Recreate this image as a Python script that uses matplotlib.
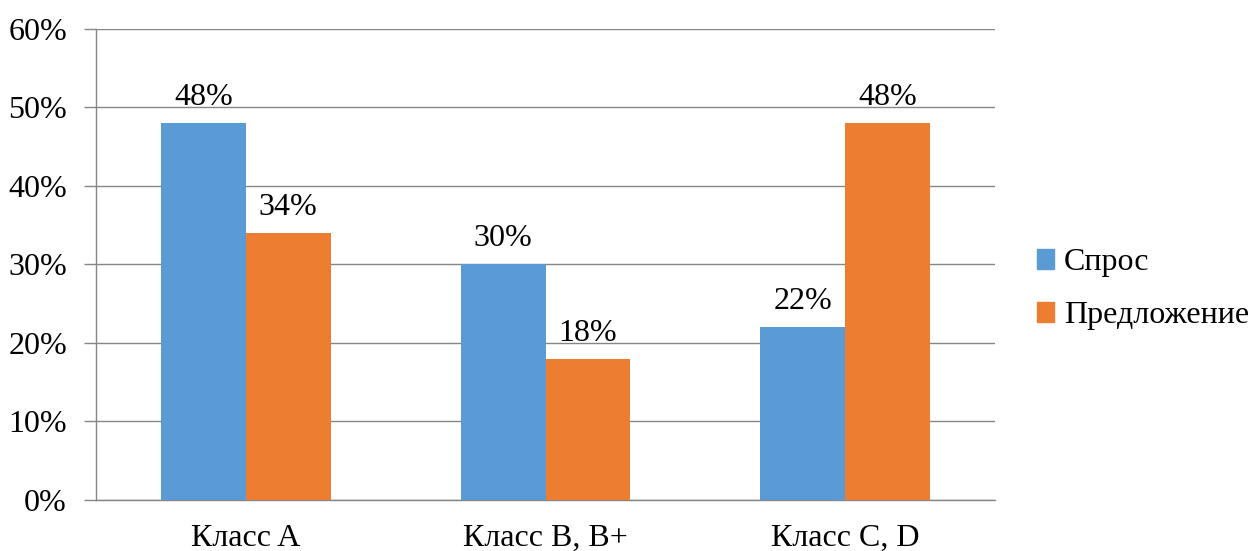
import numpy as np
import matplotlib.pyplot as plt
from matplotlib.ticker import FuncFormatter
from matplotlib.patches import Patch

plt.rcParams['font.family'] = ['Liberation Serif', 'DejaVu Serif']

categories = ['Класс A', 'Класс B, B+', 'Класс C, D']
series_names = ['Спрос', 'Предложение']
demand = [48, 30, 22]
supply = [34, 18, 48]
colors = ['#5B9BD5', '#ED7D31']
grid_color = '#868686'
fs = 23

fig = plt.figure(figsize=(12.49, 5.51), dpi=100)
ax = fig.add_axes([0.0769, 0.0926, 0.7197, 0.8548])

x = np.arange(len(categories))
width = 0.283
for i, (vals, c) in enumerate(zip([demand, supply], colors)):
    pos = x + (i - 0.5) * width
    ax.bar(pos, vals, width=width, color=c, zorder=3)
    for px, v in zip(pos, vals):
        ax.annotate(f'{v}%', (px, v), xytext=(0, 8), textcoords='offset points',
                    ha='center', va='bottom', fontsize=fs)

ax.set_xlim(-0.5, 2.5)
ax.set_ylim(0, 60)
ax.set_yticks(np.arange(0, 61, 10))
ax.yaxis.set_major_formatter(FuncFormatter(lambda v, _: f'{v:.0f}%'))
ax.set_xticks(x)
ax.set_xticklabels(categories)
ax.tick_params(axis='x', length=0, labelsize=fs, pad=17)
ax.tick_params(axis='y', length=9, width=1, color=grid_color, labelsize=fs, pad=12)
ax.grid(axis='y', color=grid_color, lw=1, zorder=0)
for s in ['top', 'right']:
    ax.spines[s].set_visible(False)
for s in ['left', 'bottom']:
    ax.spines[s].set_color(grid_color)
    ax.spines[s].set_linewidth(1)

handles = [Patch(color=c, label=n) for c, n in zip(colors, series_names)]
fig.legend(handles=handles, loc='center left', bbox_to_anchor=(0.830, 0.475),
           frameon=False, fontsize=fs, handlelength=0.55, handleheight=0.55,
           handletextpad=0.3, labelspacing=0.75, borderpad=0, borderaxespad=0)

fig.savefig('out.png', dpi=100)
